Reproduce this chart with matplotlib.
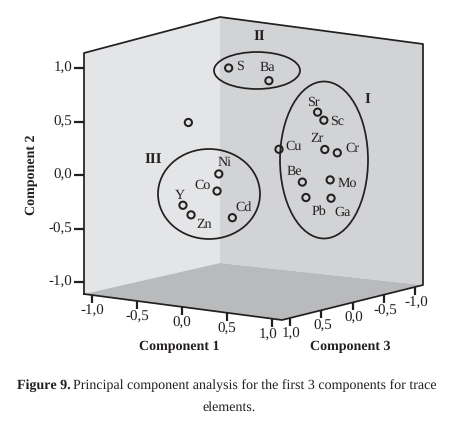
import numpy as np
import matplotlib
matplotlib.use('Agg')
import matplotlib.pyplot as plt
from matplotlib.patches import Polygon, Ellipse

# loadings
elements = ['S', 'Ba', '', 'Ni', 'Co', 'Y', 'Zn', 'Cd', 'Sr', 'Sc', 'Cu', 'Zr', 'Cr', 'Be', 'Mo', 'Pb', 'Ga']
comp1 = [0.08, 0.18, -0.09, 0.04, 0.09, -0.15, -0.06, 0.26, 0.86, 0.86, 0.57, 0.94, 0.94, 0.76, 0.93, 0.80, 0.94]
comp2 = [1.04, 0.86, 0.57, 0.06, -0.08, -0.21, -0.29, -0.31, 0.67, 0.58, 0.32, 0.33, 0.27, 0.02, 0.03, -0.12, -0.14]
comp3 = [0.5, 0.0, 0.9, 0.6, 0.7, 0.9, 0.9, 0.7, 0.2, 0.1, 0.4, 0.2, 0.0, 0.3, 0.1, 0.3, 0.1]

ticks = [-1.0, -0.5, 0.0, 0.5, 1.0]
tick_labels = ['-1,0', '-0,5', '0,0', '0,5', '1,0']

LINE = '#231f20'
plt.rcParams['font.family'] = ['Liberation Serif', 'DejaVu Serif']
plt.rcParams['text.hinting'] = 'none'
plt.rcParams['text.hinting_factor'] = 1


def project(c1, c2, c3):
    # oblique view of the box, result in image pixels
    sx = 252.7 + 90 * np.asarray(c1) - 62.5 * np.asarray(c3)
    sy = 170.6 + 11.8 * np.asarray(c1) + 15.5 * np.asarray(c3) - 107 * np.asarray(c2)
    return sx, sy


fig = plt.figure(figsize=(4.65, 4.38), dpi=100)
ax = fig.add_axes([0, 0, 1, 1])
ax.set_xlim(0, 465)
ax.set_ylim(438, 0)
ax.axis('off')

# box walls
ax.add_patch(Polygon([(84, 53), (220, 17), (220, 263), (84, 294)], fc='#e4e5e6', ec='none', zorder=1))
ax.add_patch(Polygon([(220, 17), (423, 44), (423, 285), (220, 263)], fc='#d2d3d5', ec='none', zorder=1))
ax.add_patch(Polygon([(84, 294), (220, 263), (423, 285), (282, 320)], fc='#b9babc', ec='none', zorder=1))
ax.plot([84, 84, 220, 423, 423, 282, 84], [294, 53, 17, 44, 285, 320, 294], color=LINE, lw=1.25, zorder=2)

# component 2 ticks on the left edge
for t, lab in zip(ticks, tick_labels):
    _, y = project(-1.09, t, 1.13)
    ax.plot([74, 84], [y, y], color=LINE, lw=1.6, zorder=2, solid_capstyle='butt')
    ax.text(72, y, lab, ha='right', va='center', fontsize=10.5, color=LINE)

# component 1 ticks
for t, lab in zip(ticks, tick_labels):
    x, y = project(t, -1.11, 1.13)
    ax.plot([x, x], [y, y + 8], color=LINE, lw=1.6, zorder=2, solid_capstyle='butt')
    ax.text(x - (4 if t == 1.0 else 0), y + 16, lab, ha='center', va='center', fontsize=10.5, color=LINE)

# component 3 ticks
for t, lab in zip(ticks, tick_labels):
    x, y = project(1.11, -1.11, t)
    ax.plot([x, x], [y, y + 8], color=LINE, lw=1.6, zorder=2, solid_capstyle='butt')
    ax.text(x + 1, y + 16, lab, ha='center', va='center', fontsize=10.5, color=LINE)

ax.text(179, 347, 'Component 1', ha='center', va='center', fontsize=10.3, fontweight='bold', color=LINE)
ax.text(350, 347, 'Component 3', ha='center', va='center', fontsize=10.3, fontweight='bold', color=LINE)
ax.text(32, 175, 'Component 2', ha='center', va='center', rotation=90, fontsize=10.3, fontweight='bold', color=LINE)

# groups
ax.add_patch(Ellipse((257, 70.5), 86, 37, fc='none', ec=LINE, lw=1.25, zorder=3))
ax.add_patch(Ellipse((324, 160), 88, 157, fc='none', ec=LINE, lw=1.25, zorder=3))
ax.add_patch(Ellipse((209, 194), 102, 90, fc='none', ec=LINE, lw=1.25, zorder=3))
ax.text(259, 36, 'II', ha='center', va='center', fontsize=10.5, fontweight='bold', color=LINE)
ax.text(367, 99, 'I', ha='center', va='center', fontsize=10.5, fontweight='bold', color=LINE)
ax.text(153, 159, 'III', ha='center', va='center', fontsize=10.5, fontweight='bold', color=LINE)

sx, sy = project(comp1, comp2, comp3)
ax.scatter(sx, sy, s=27, facecolors='none', edgecolors=LINE, linewidths=1.45, zorder=4)

# label offsets from the marker, in pixels
label_off = {'S': (11, -2), 'Ba': (-2, -13), 'Ni': (6, -11), 'Co': (-14, -6), 'Y': (-3, -10), 'Zn': (13, 10),
             'Cd': (11, -10), 'Sr': (-4, -10), 'Sc': (13, 1), 'Cu': (15, -3), 'Zr': (-8, -11), 'Cr': (15, -4),
             'Be': (-8, -11), 'Mo': (17, 4), 'Pb': (13, 14), 'Ga': (12, 14)}
for name, x, y in zip(elements, sx, sy):
    if name:
        dx, dy = label_off[name]
        ax.text(x + dx, y + dy, name, ha='center', va='center', fontsize=10.3, color=LINE, zorder=5)

# caption
ax.text(17, 386, 'Figure 9.', ha='left', va='center', fontsize=10.1, fontweight='bold', color=LINE)
ax.text(73, 386, 'Principal component analysis for the first 3 components for trace', ha='left', va='center',
        fontsize=10.2, color=LINE)
ax.text(229, 407, 'elements.', ha='center', va='center', fontsize=10.2, color=LINE)

plt.savefig('out.png', dpi=100)
